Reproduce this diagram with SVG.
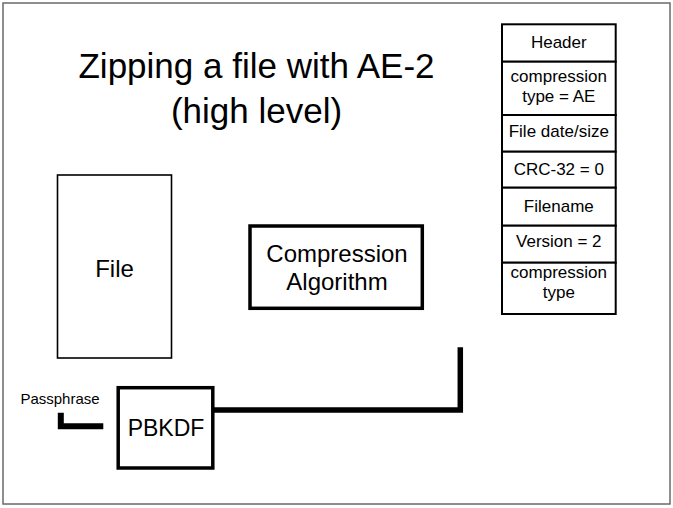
<svg xmlns="http://www.w3.org/2000/svg" width="673" height="508" viewBox="0 0 673 508">
  <style>
    text { font-family: "Liberation Sans", Arial, sans-serif; fill: #000; text-anchor: middle; }
    .title { font-size: 35px; }
    .big { font-size: 24px; }
    .cell { font-size: 17px; }
    .thin { fill: #fff; stroke: #000; stroke-width: 1.6; }
    .thick { fill: #fff; stroke: #000; stroke-width: 3.5; }
    .row { fill: #fff; stroke: #000; stroke-width: 2; }
    .wire { fill: none; stroke: #000; stroke-linecap: butt; stroke-linejoin: miter; }
  </style>

  <!-- frame -->
  <rect x="0" y="0" width="673" height="508" fill="#fff"/>
  <rect x="3" y="3" width="667" height="501" fill="#fff" stroke="#6a6a6a" stroke-width="1.5"/>

  <!-- title -->
  <g id="title">
    <text class="title" x="256.5" y="78">Zipping a file with AE-2</text>
    <text class="title" x="256.5" y="123">(high level)</text>
  </g>

  <!-- connectors -->
  <g id="connectors">
    <path class="wire" stroke-width="6" d="M 60.8 412.7 V 426.3 H 103.3"/>
    <path class="wire" stroke-width="5.5" d="M 214 410 H 460.3 V 347.3"/>
  </g>

  <g id="file">
    <rect class="thin" x="57.5" y="175" width="114" height="183"/>
    <text class="big" x="114.5" y="277">File</text>
  </g>

  <g id="compression-algorithm">
    <rect class="thick" x="250" y="226" width="172.3" height="82.3"/>
    <text class="big" x="337" y="262">Compression</text>
    <text class="big" x="337" y="290">Algorithm</text>
  </g>

  <g id="passphrase">
    <text x="60" y="404" style="font-size:15px">Passphrase</text>
  </g>

  <g id="pbkdf">
    <rect class="thick" x="118.2" y="387.7" width="94.6" height="80.3"/>
    <text class="big" x="166" y="436" style="font-size:23px">PBKDF</text>
  </g>

  <!-- zip local header fields -->
  <g id="header-table">
    <g id="row-header">
      <rect class="row" x="502" y="24.3" width="113.7" height="37.4"/>
      <text class="cell" x="558.8" y="48.3">Header</text>
    </g>
    <g id="row-compression-ae">
      <rect class="row" x="502" y="61.7" width="113.7" height="53.3"/>
      <text class="cell" x="558.8" y="81.7">compression</text>
      <text class="cell" x="558.8" y="101.7">type = AE</text>
    </g>
    <g id="row-date-size">
      <rect class="row" x="502" y="115" width="113.7" height="36.7"/>
      <text class="cell" x="558.8" y="137.3">File date/size</text>
    </g>
    <g id="row-crc">
      <rect class="row" x="502" y="151.7" width="113.7" height="36"/>
      <text class="cell" x="558.8" y="175">CRC-32 = 0</text>
    </g>
    <g id="row-filename">
      <rect class="row" x="502" y="187.7" width="113.7" height="38"/>
      <text class="cell" x="558.8" y="211.7">Filename</text>
    </g>
    <g id="row-version">
      <rect class="row" x="502" y="225.7" width="113.7" height="37"/>
      <text class="cell" x="558.8" y="247.3">Version = 2</text>
    </g>
    <g id="row-compression">
      <rect class="row" x="502" y="262.7" width="113.7" height="51.3"/>
      <text class="cell" x="558.8" y="278.3">compression</text>
      <text class="cell" x="558.8" y="298.3">type</text>
    </g>
  </g>
</svg>
